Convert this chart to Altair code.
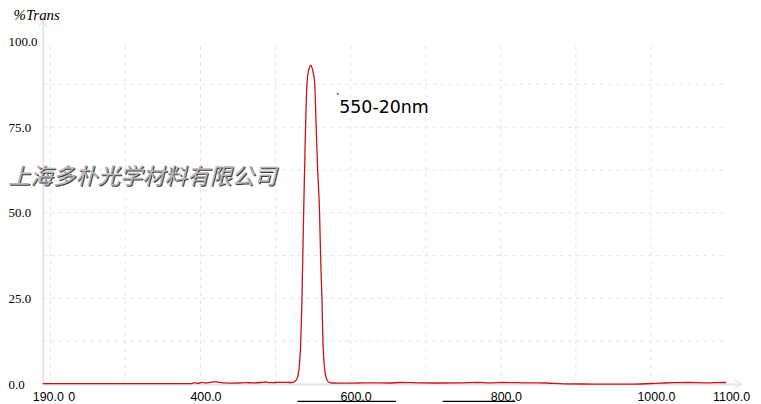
import altair as alt
import pandas as pd

# ---- data ----
wavelength = [190, 250, 300, 350, 388, 392, 397, 402, 407, 413, 420, 425, 432, 440, 450,
              460, 470, 480, 487, 492, 500, 510, 518, 523, 526, 529, 531, 533.5, 535.2,
              536.3, 537.4, 538.7, 540, 542, 544.5, 547, 549.5, 552, 554, 556, 558.6, 560,
              561.8, 563.1, 565.7, 568, 570.5, 575, 590, 610, 630, 650, 667, 690, 720, 750,
              769, 785, 804, 830, 860, 884, 924, 976, 1011, 1030, 1051, 1075, 1096, 1100]
transmission = [0.1, 0.1, 0.1, 0.1, 0.15, 0.4, 0.2, 0.5, 0.35, 0.5, 0.7, 0.5, 0.35, 0.25, 0.3,
                0.4, 0.35, 0.45, 0.6, 0.4, 0.45, 0.5, 0.45, 0.5, 0.8, 1.8, 4, 12, 25,
                37.5, 50, 63, 75.6, 88.2, 92, 93, 91.5, 88.2, 75.6, 63, 50, 37,
                24.7, 12.2, 3.9, 1.5, 0.6, 0.3, 0.25, 0.3, 0.35, 0.3, 0.45, 0.35, 0.3, 0.35,
                0.45, 0.35, 0.45, 0.35, 0.3, 0.06, 0.0, 0.0, 0.25, 0.4, 0.45, 0.35, 0.45, 0.45]

x_ticks = [190, 400, 600, 800, 1000, 1100]
y_ticks = [0, 25, 50, 75, 100]
grid_x = [200, 300, 400, 500, 600, 700, 800, 900, 1000]
grid_y = [12.5, 25, 37.5, 50, 62.5, 75, 87.5]

x_domain = [190, 1120]
y_domain = [0, 106]
W, H = 702, 365

watermark = "上海多朴光学材料有限公司"
annotation = "550-20nm"

spec_df = pd.DataFrame({"wl": wavelength, "T": transmission})
vgrid = pd.DataFrame({"x": grid_x, "y0": [0] * len(grid_x), "y1": [100] * len(grid_x)})
hgrid = pd.DataFrame({"y": grid_y, "x0": [190] * len(grid_y), "x1": [1100] * len(grid_y)})
one = pd.DataFrame({"k": [0]})

xs = alt.Scale(domain=x_domain, nice=False, zero=False)
ys = alt.Scale(domain=y_domain, nice=False)

x_axis = alt.Axis(values=x_ticks, format=".1f", labelFont="Liberation Sans", labelFontSize=12.5,
                  labelColor="#000", labelOffset=5, labelPadding=7, ticks=False, tickSize=0,
                  domainColor="#e6e6e6", domainWidth=2, grid=False, title=None,
                  labelFlush=False, labelOverlap=False)
y_axis = alt.Axis(values=y_ticks, format=".1f", labelFont="Liberation Serif", labelFontSize=13,
                  labelColor="#000", labelAlign="left", labelBaseline="middle", labelPadding=35,
                  ticks=False, tickSize=0, domainColor="#e6e6e6", domainWidth=2, grid=False,
                  title="%Trans", titleAngle=0, titleFont="Liberation Serif", titleFontSize=15,
                  titleFontStyle="italic", titleFontWeight="normal", titleColor="#000",
                  titleX=-30, titleY=-7, titleAlign="left", titleBaseline="middle")

vg = alt.Chart(vgrid).mark_rule(color="#e4e4e4", strokeDash=[4, 4], strokeWidth=1).encode(
    x=alt.X("x:Q", scale=xs, axis=x_axis), y=alt.Y("y0:Q", scale=ys, axis=y_axis), y2="y1:Q")
hg = alt.Chart(hgrid).mark_rule(color="#e4e4e4", strokeDash=[4, 4], strokeWidth=1).encode(
    y=alt.Y("y:Q", scale=ys), x=alt.X("x0:Q", scale=xs), x2="x1:Q")

line = alt.Chart(spec_df).mark_line(color="#c81414", strokeWidth=1.3, interpolate="monotone").encode(
    x=alt.X("wl:Q", scale=xs), y=alt.Y("T:Q", scale=ys))

# axis arrowheads
arrow_y = alt.Chart(one).mark_point(
    shape="M-1,0.7L0,-0.7L1,0.7", filled=False, color="#dcdcdc", size=70, strokeWidth=1.5
).encode(x=alt.value(0), y=alt.value(3))
arrow_x = alt.Chart(one).mark_point(
    shape="M-0.7,-1L0.7,0L-0.7,1", filled=False, color="#dcdcdc", size=70, strokeWidth=1.5
).encode(x=alt.value(W - 3), y=alt.value(H))

wm_df = pd.DataFrame({"t": [watermark]})
wm_shadow = alt.Chart(wm_df).mark_text(
    font="Noto Sans CJK SC", fontSize=22.5, fontStyle="italic", align="left", baseline="middle",
    color="#3a3a3a").encode(text="t:N", x=alt.value(-34), y=alt.value(158))
wm = alt.Chart(wm_df).mark_text(
    font="Noto Sans CJK SC", fontSize=22.5, fontStyle="italic", align="left", baseline="middle",
    color="#b4b4b4").encode(text="t:N", x=alt.value(-35), y=alt.value(157))

ann = alt.Chart(pd.DataFrame({"t": [annotation]})).mark_text(
    font="DejaVu Sans", fontSize=17.5, align="left", baseline="middle", color="#000"
).encode(text="t:N", x=alt.value(298), y=alt.value(88))
tick_mark = alt.Chart(pd.DataFrame({"t": ["`"]})).mark_text(
    font="Noto Sans", fontSize=10, align="left", baseline="middle", color="#000"
).encode(text="t:N", x=alt.value(295), y=alt.value(78))
zero_lbl = alt.Chart(pd.DataFrame({"t": ["0"]})).mark_text(
    font="Liberation Sans", fontSize=12.5, align="center", baseline="middle", color="#000"
).encode(text="t:N", x=alt.value(29), y=alt.value(H + 13))

ul1 = alt.Chart(one).mark_rule(color="#000", strokeWidth=1.3).encode(
    x=alt.value(256), x2=alt.value(355), y=alt.value(382.5))
ul2 = alt.Chart(one).mark_rule(color="#000", strokeWidth=1.3).encode(
    x=alt.value(402), x2=alt.value(475), y=alt.value(382.5))

chart = alt.layer(vg, hg, wm_shadow, wm, line, arrow_y, arrow_x, ann, tick_mark, zero_lbl,
                  ul1, ul2).properties(
    width=W, height=H, autosize="none",
    padding={"left": 35, "top": 12, "right": 12, "bottom": 19},
    background="white"
).configure_view(stroke=None)

chart.save("out.html", embed_options={"renderer": "svg", "actions": False})
